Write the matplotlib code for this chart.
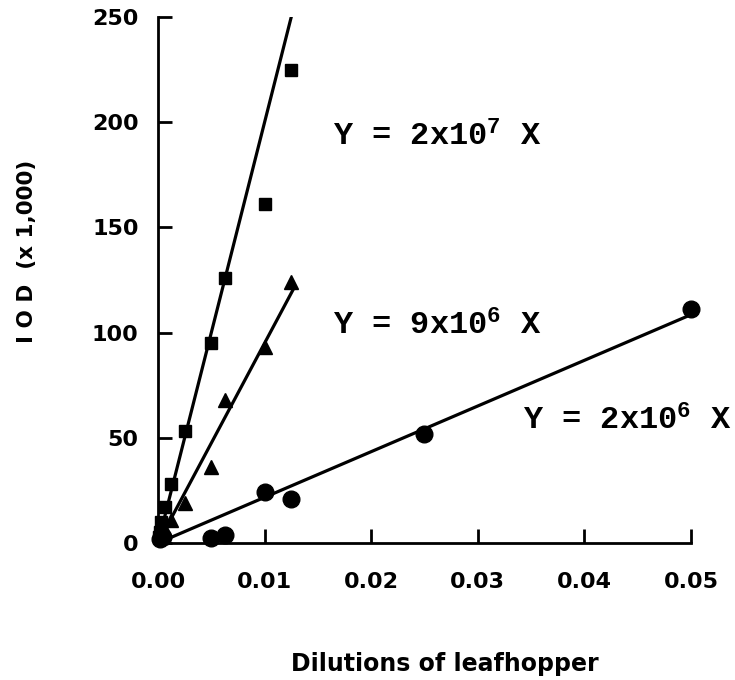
import numpy as np
import matplotlib
matplotlib.use("Agg")
import matplotlib.pyplot as plt

plt.rcParams['mathtext.default'] = 'regular'

# dilutions (x) and IOD x 1,000 (y)
sq_x = [0.0125, 0.01, 0.00625, 0.005, 0.0025, 0.00125, 0.000625, 0.0003125, 0.00016, 0.00008]
sq_y = [225, 161, 126, 95, 53, 28, 17, 10, 5, 3]
tri_x = [0.0125, 0.01, 0.00625, 0.005, 0.0025, 0.00125, 0.000625, 0.0003125]
tri_y = [124, 93, 68, 36, 19, 11, 6, 3]
cir_x = [0.05, 0.025, 0.0125, 0.01, 0.00625, 0.005, 0.0005, 0.0002]
cir_y = [111, 52, 21, 24, 4, 2.5, 3, 2]

# fitted lines: slope (raw IOD per dilution) and x end
fit_slopes = [2.0e7, 9.5e6, 2.17e6]
fit_xmax = [0.0125, 0.0128, 0.0497]
fit_labels = ["Y = 2x10$^7$ X", "Y = 9x10$^6$ X", "Y = 2x10$^6$ X"]
label_pos = [(0.0164, 193), (0.0164, 103), (0.0342, 58)]

fig = plt.figure(figsize=(7.35, 6.8), dpi=100)
ax = fig.add_axes([0.215, 0.2015, 0.725, 0.7735])

for s, xm in zip(fit_slopes, fit_xmax):
    xs = np.array([0.0, xm])
    ax.plot(xs, s * xs / 1000, '-', color='black', lw=2.3, zorder=2)

ax.plot(sq_x, sq_y, 's', color='black', ms=8, clip_on=False, zorder=3)
ax.plot(tri_x, tri_y, '^', color='black', ms=10, clip_on=False, zorder=3)
ax.plot(cir_x, cir_y, 'o', color='black', ms=12, clip_on=False, zorder=3)

for lab, (tx, ty) in zip(fit_labels, label_pos):
    ax.text(tx, ty, lab, family='Liberation Mono', fontsize=23,
            fontweight='bold', ha='left', va='center')

ax.set_xlim(0, 0.05)
ax.set_ylim(0, 250)
ax.set_xticks([0, 0.01, 0.02, 0.03, 0.04, 0.05])
ax.set_xticklabels(["0.00", "0.01", "0.02", "0.03", "0.04", "0.05"])
ax.set_yticks([0, 50, 100, 150, 200, 250])

for sp in ['top', 'right']:
    ax.spines[sp].set_visible(False)
for sp in ['left', 'bottom']:
    ax.spines[sp].set_linewidth(2)

ax.tick_params(direction='in', length=10, width=2, labelsize=16)
ax.tick_params(axis='x', pad=21)
ax.tick_params(axis='y', pad=14)
for lab in ax.get_xticklabels() + ax.get_yticklabels():
    lab.set_fontweight('heavy')

ax.set_xlabel("Dilutions of leafhopper", fontsize=17, fontweight='heavy')
ax.xaxis.set_label_coords(0.538, -0.207)
ax.set_ylabel("I O D  (x 1,000)", fontsize=15.5, fontweight='heavy')
ax.yaxis.set_label_coords(-0.228, 0.555)

fig.savefig("out.png", dpi=100)
